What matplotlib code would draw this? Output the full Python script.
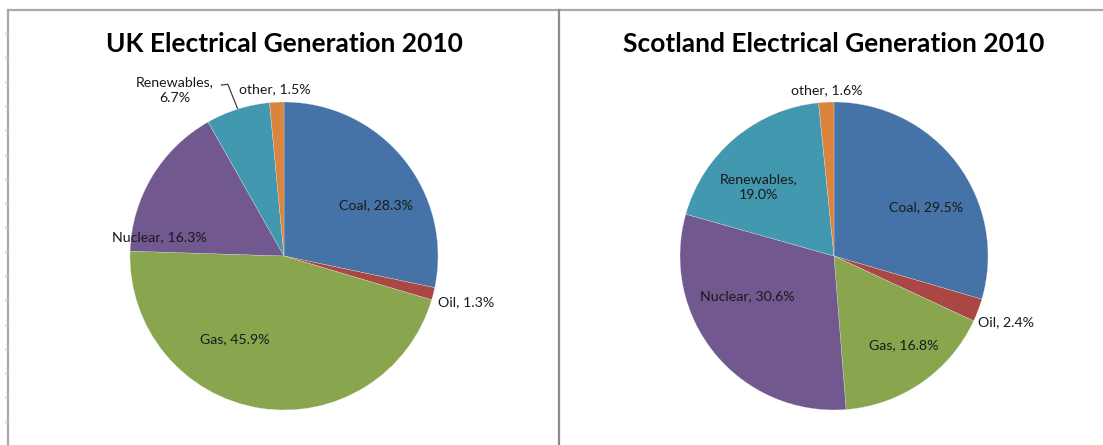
import numpy as np
import matplotlib.pyplot as plt
from matplotlib.lines import Line2D

plt.rcParams['font.family'] = ['Lato', 'DejaVu Sans']

# generation shares, clockwise from 12 o'clock
categories = ['Coal', 'Oil', 'Gas', 'Nuclear', 'Renewables', 'other']
uk_share = [28.3, 1.3, 45.9, 16.3, 6.7, 1.5]
scot_share = [29.5, 2.4, 16.8, 30.6, 19.0, 1.6]
titles = ['UK Electrical Generation 2010', 'Scotland Electrical Generation 2010']

colors = ['#4572A7', '#AA4643', '#89A54E', '#71588F', '#4198AF', '#DB843D']

W, H = 1103, 445
R = 154  # pie radius in pixels

fig = plt.figure(figsize=(W / 100, H / 100), dpi=100)
fig.patch.set_facecolor('white')

# label centres in radius units, relative to the pie centre
uk_label_xy = [(0.60, 0.33), (1.18, -0.30), (-0.32, -0.54), (-0.81, 0.12),
               (-0.71, 1.075), (-0.06, 1.085)]
scot_label_xy = [(0.60, 0.32), (1.12, -0.43), (0.45, -0.58), (-0.56, -0.26),
                 (-0.49, 0.45), (-0.05, 1.08)]
# Renewables in the UK chart sits outside with a leader line
uk_leader = [c == 'Renewables' for c in categories]


def add_pie(cx, cy, values, title, label_xy, leader):
    # axes box in pixels, centred on the pie
    bw, bh = 520, 400
    ax = fig.add_axes([(cx - bw / 2) / W, 1 - (cy + bh / 2) / H, bw / W, bh / H])
    wedges, _ = ax.pie(values, colors=colors, startangle=90, counterclock=False,
                       radius=1, wedgeprops=dict(edgecolor='#e8e8e8', linewidth=0.2))
    ax.set_xlim(-bw / 2 / R, bw / 2 / R)
    ax.set_ylim(-bh / 2 / R, bh / 2 / R)
    ax.set_aspect('auto')
    ax.axis('off')

    for i, (name, v) in enumerate(zip(categories, values)):
        lx, ly = label_xy[i]
        if name == 'Renewables':
            txt = f'{name},\n{v:.1f}%'
        else:
            txt = f'{name}, {v:.1f}%'
        ax.text(lx, ly, txt, ha='center', va='center', fontsize=10.2,
                color='#1a1a1a', linespacing=1.4)
        if leader[i]:
            w = wedges[i]
            mid = np.deg2rad((w.theta1 + w.theta2) / 2)
            ex, ey = np.cos(mid), np.sin(mid)
            ax.plot([lx + 0.30, lx + 0.345, ex], [ly + 0.035, ly + 0.04, ey],
                    color='#404040', lw=0.9, solid_capstyle='butt')

    fig.text(cx / W, 1 - 44 / H, title, ha='center', va='center',
             fontsize=19, fontweight='bold', color='black')


add_pie(284, 256, uk_share, titles[0], uk_label_xy, uk_leader)
add_pie(834, 256, scot_share, titles[1], scot_label_xy, [False] * 6)

# sheet border lines and the small row marks on the left edge
gray = '#a9a9a9'
fig.add_artist(Line2D([8 / W, 1], [1 - 10 / H, 1 - 10 / H], color=gray, lw=1.6))
fig.add_artist(Line2D([8 / W, 8 / W], [0, 1 - 10 / H], color=gray, lw=1.6))
fig.add_artist(Line2D([559 / W, 559 / W], [0, 1 - 10 / H], color='#8c8c8c', lw=1.6))
for y in np.arange(33, H, 24.3):
    fig.add_artist(Line2D([5 / W, 8 / W], [1 - y / H, 1 - y / H], color='#c8c8c8', lw=0.8))

fig.savefig('out.png', dpi=100)
